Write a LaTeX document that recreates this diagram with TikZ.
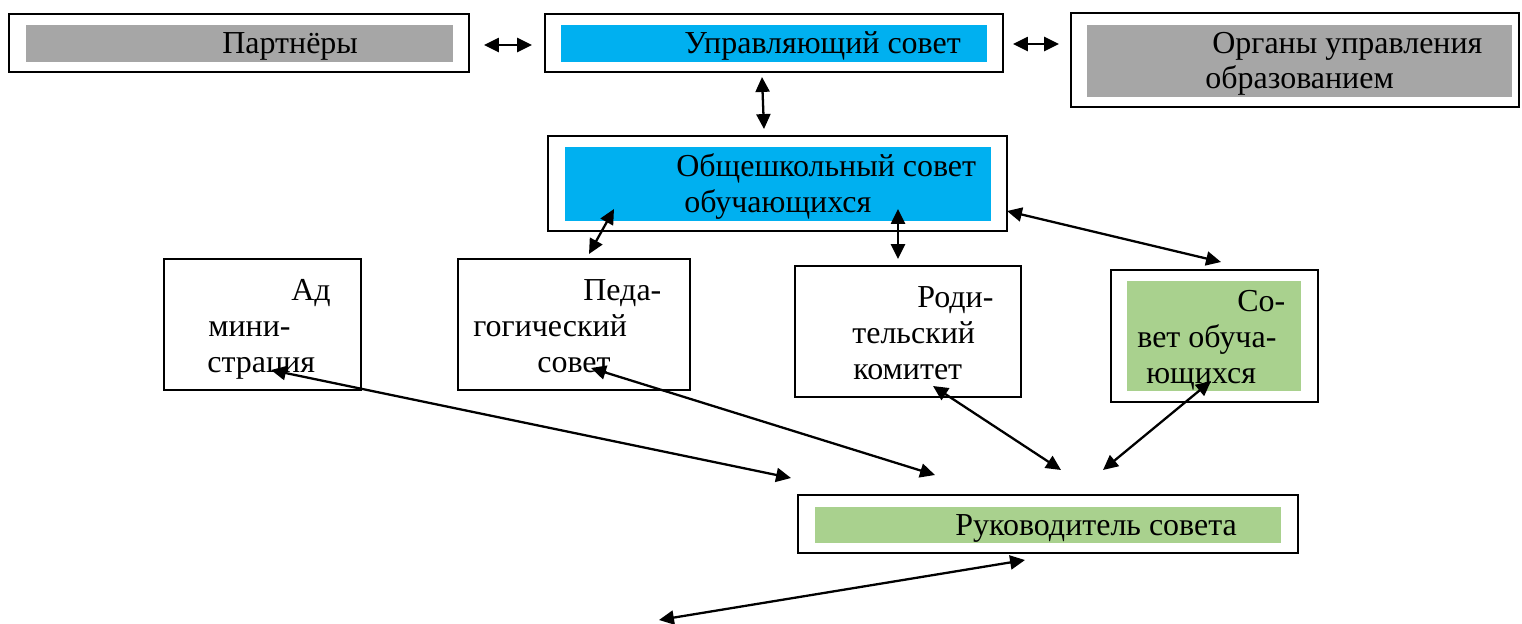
\documentclass[tikz,border=0pt]{standalone}
\usepackage{fontspec}
\setmainfont{Liberation Serif}
\usetikzlibrary{fit,arrows.meta}
\definecolor{cblue}{HTML}{00B0F0}
\definecolor{cgray}{HTML}{A6A6A6}
\definecolor{cgreen}{HTML}{A9D18E}
\tikzset{
  outerbox/.style={draw=black, line width=1.2pt, inner sep=0pt},
  thinbox/.style={draw=black, line width=0.9pt, inner sep=0pt},
  fillbox/.style={inner sep=0pt},
  txt/.style={anchor=base west, inner sep=0pt, font=\fontsize{18.2}{20}\selectfont},
  arr/.style={{Triangle[length=8.5pt,width=8pt]}-{Triangle[length=8.5pt,width=8pt]}, line width=1.3pt},
}
\begin{document}
\begin{tikzpicture}[x=0.02cm,y=-0.02cm]
\useasboundingbox (0,0) rectangle (1522,623);
% top row
\node[outerbox, fit={(9,14)(469,72)}] (partB) {};
\node[fillbox, fill=cgray, fit={(26,25)(453,62)}] (partF) {};
\node[txt] (partT) at (222,53) {Партнёры};

\node[outerbox, fit={(545,14)(1003,72)}] (upB) {};
\node[fillbox, fill=cblue, fit={(561,25)(987,62)}] (upF) {};
\node[txt] (upT) at (684,53) {Управляющий совет};

\node[outerbox, fit={(1071,13)(1519,107)}] (orgB) {};
\node[fillbox, fill=cgray, fit={(1087,25)(1512,97)}] (orgF) {};
\node[txt] (orgT1) at (1212,53) {Органы управления};
\node[txt] (orgT2) at (1205,88) {образованием};

% second row
\node[outerbox, fit={(548,136)(1007,231)}] (obB) {};
\node[fillbox, fill=cblue, fit={(565,147)(991,221)}] (obF) {};
\node[txt] (obT1) at (676,176) {Общешкольный совет};
\node[txt] (obT2) at (684,212) {обучающихся};

% third row
\node[thinbox, fit={(164,259)(361,390)}] (admB) {};
\node[txt] (admT1) at (291,300) {Ад};
\node[txt] (admT2) at (208,336) {мини-};
\node[txt] (admT3) at (207,372) {страция};

\node[thinbox, fit={(458,259)(690,390)}] (pedB) {};
\node[txt] (pedT1) at (583,300) {Педа-};
\node[txt] (pedT2) at (473,336) {гогический};
\node[txt] (pedT3) at (537,372) {совет};

\node[thinbox, fit={(795,266)(1021,397)}] (rodB) {};
\node[txt] (rodT1) at (917,307) {Роди-};
\node[txt] (rodT2) at (852,343) {тельский};
\node[txt] (rodT3) at (853,379) {комитет};

\node[outerbox, fit={(1111,270)(1318,402)}] (soB) {};
\node[fillbox, fill=cgreen, fit={(1127,281)(1301,391)}] (soF) {};
\node[txt] (soT1) at (1237,311) {Со-};
\node[txt] (soT2) at (1137,347) {вет обуча-};
\node[txt] (soT3) at (1146,383) {ющихся};

% bottom
\node[outerbox, fit={(798,495)(1298,553)}] (rukB) {};
\node[fillbox, fill=cgreen, fit={(815,507)(1281,543)}] (rukF) {};
\node[txt] (rukT) at (955,535) {Руководитель совета};

% connector end points
\coordinate (pR) at (484,45);
\coordinate (uL) at (532,45);
\coordinate (uR) at (1013,44);
\coordinate (oL) at (1059,44);
\coordinate (uB) at (762,77);
\coordinate (obT) at (764,129);
\coordinate (obBL) at (614,209);
\coordinate (pedTop) at (589,254);
\coordinate (obBM) at (898,209);
\coordinate (rodTop) at (898,259);
\coordinate (obR) at (1007,211);
\coordinate (soTop) at (1221,262);
\coordinate (admIn) at (271,370);
\coordinate (rukA) at (791,478);
\coordinate (pedIn) at (591,368);
\coordinate (rukP) at (935,475);
\coordinate (rodIn) at (933,386);
\coordinate (rukR) at (1061,470);
\coordinate (soIn) at (1211,381);
\coordinate (rukS) at (1103,470);
\coordinate (rukBot) at (1025,560);
\coordinate (freeEnd) at (659,620);

\draw[arr] (pR) -- (uL);
\draw[arr] (uR) -- (oL);
\draw[arr] (uB) -- (obT);
\draw[arr] (obBL) -- (pedTop);
\draw[arr] (obBM) -- (rodTop);
\draw[arr] (obR) -- (soTop);
\draw[arr] (admIn) -- (rukA);
\draw[arr] (pedIn) -- (rukP);
\draw[arr] (rodIn) -- (rukR);
\draw[arr] (soIn) -- (rukS);
\draw[arr] (rukBot) -- (freeEnd);
\end{tikzpicture}
\end{document}
